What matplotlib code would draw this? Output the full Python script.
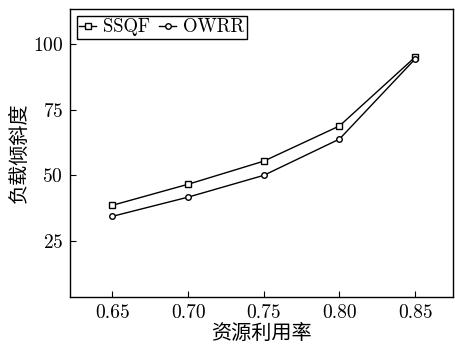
import matplotlib.pyplot as plt

plt.rcParams['font.family'] = ['cmr10', 'Noto Sans CJK SC']
plt.rcParams['axes.formatter.use_mathtext'] = True

# Data
util = [0.65, 0.70, 0.75, 0.80, 0.85]
ssqf = [38.6, 46.6, 55.4, 68.8, 95.0]
owrr = [34.4, 41.7, 50.0, 63.8, 94.3]
xticks = [0.65, 0.70, 0.75, 0.80, 0.85]
yticks = [25, 50, 75, 100]

fig = plt.figure(figsize=(4.56, 3.49), dpi=100)
ax = fig.add_axes([70 / 456, 52 / 349, 383 / 456, 288 / 349])

ax.plot(util, ssqf, color='black', lw=1, marker='s', ms=4,
        mfc='white', mec='black', mew=1, label='SSQF')
ax.plot(util, owrr, color='black', lw=1, marker='o', ms=4,
        mfc='white', mec='black', mew=1, label='OWRR')

ax.set_xlim(0.622, 0.875)
ax.set_ylim(3.7, 113.3)
ax.set_xticks(xticks)
ax.set_xticklabels([f'{t:.2f}' for t in xticks])
ax.set_yticks(yticks)
ax.tick_params(direction='in', labelsize=14, length=4, width=0.8, pad=5)
for sp in ax.spines.values():
    sp.set_linewidth(1.0)

ax.set_xlabel('资源利用率', fontsize=14.5, family=['Noto Sans CJK SC'],
              fontweight='light', labelpad=1)
ax.set_ylabel('负载倾斜度', fontsize=14.5, family=['Noto Sans CJK SC'],
              fontweight='light', labelpad=2)

leg = ax.legend(loc='upper left', fontsize=13.5, ncol=2, handlelength=0.9,
                handletextpad=0.35, columnspacing=0.5, borderpad=0.15,
                borderaxespad=0.35, fancybox=False, edgecolor='black',
                framealpha=1)
leg.get_frame().set_linewidth(1)

fig.savefig('out.png', dpi=100)
